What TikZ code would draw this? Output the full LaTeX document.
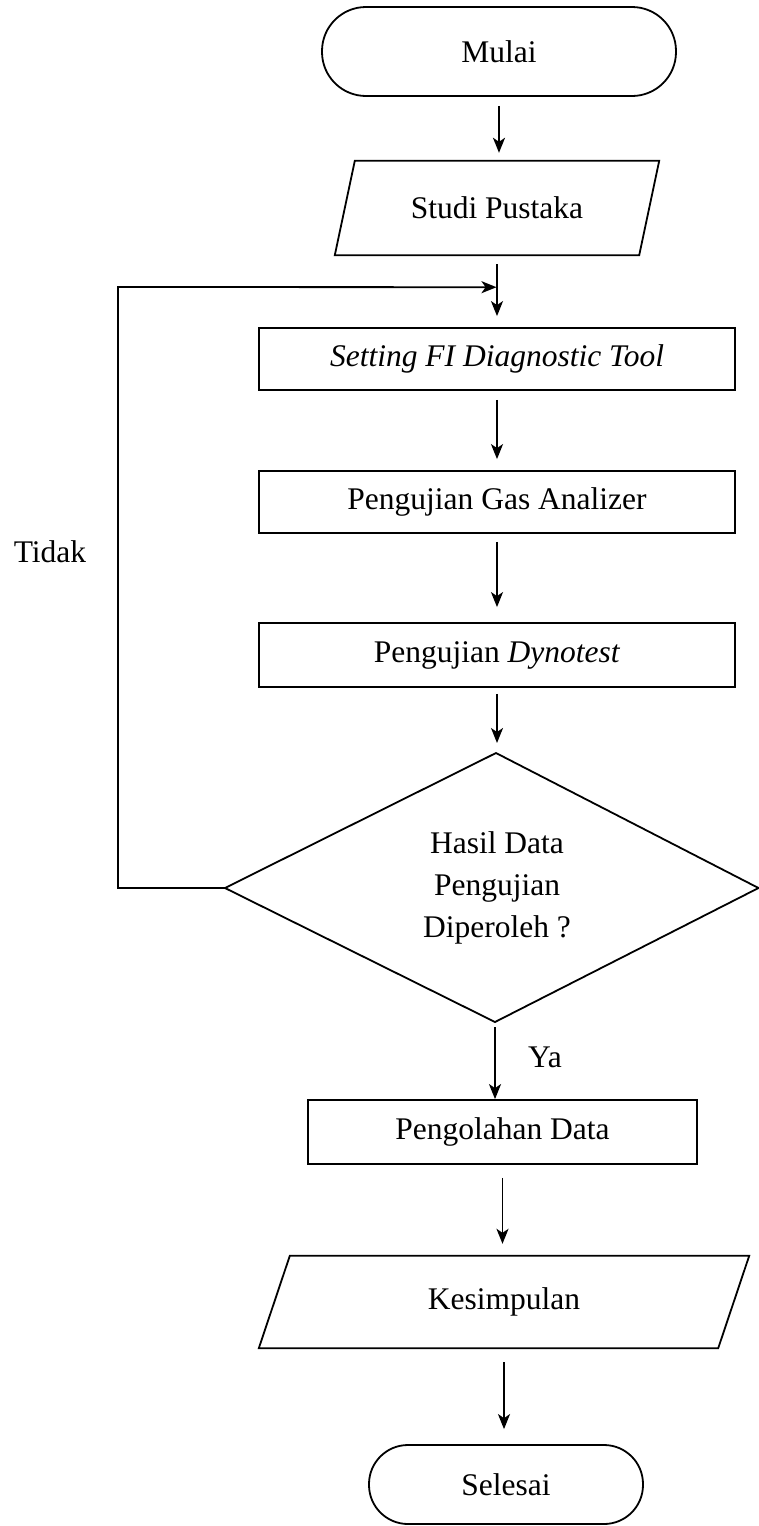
\documentclass[tikz,border=0pt]{standalone}
\usepackage{fontspec}
\setmainfont{Liberation Serif}
\usetikzlibrary{arrows.meta,calc}
\begin{document}
\begin{tikzpicture}[x=1pt,y=-1pt,
  ln/.style={line width=1.8pt},
  arr/.style={ln,-{Stealth[length=15pt,width=12pt,inset=4pt]}},
  txt/.style={inner sep=0pt,font=\fontsize{31.5}{42}\selectfont},
  box/.style={txt,draw,ln,minimum width=476pt,minimum height=62pt},
  term/.style={txt,draw,ln},
  pgram/.style={txt}
]
\useasboundingbox (0,0) rectangle (759,1526);

% nodes
\node[term,minimum width=354pt,minimum height=89pt,rounded corners=44pt] (mulai) at (499,51.5) {Mulai};
\node[pgram,minimum width=304pt,minimum height=94pt] (studi) at (497,208) {Studi Pustaka};
\draw[ln] ([xshift=10pt]studi.north west) -- ([xshift=10pt]studi.north east)
  -- ([xshift=-10pt]studi.south east) -- ([xshift=-10pt]studi.south west) -- cycle;
\node[box] (setting) at (497,359) {\itshape Setting FI Diagnostic Tool};
\node[box] (gas) at (497,502) {Pengujian Gas Analizer};
\node[box,minimum height=64pt] (dyno) at (497,655) {Pengujian \textit{Dynotest}};

\coordinate (dtop) at (496,753);
\coordinate (dleft) at (225,888);
\coordinate (dright) at (758.5,888);
\coordinate (dbot) at (495,1022);
\draw[ln] (dtop) -- (dright) -- (dbot) -- (dleft) -- cycle;
\node[txt,align=center] (dec) at (497,888) {Hasil Data\\Pengujian\\Diperoleh ?};

\node[box,minimum width=389pt,minimum height=64pt] (peng) at (502.5,1132) {Pengolahan Data};
\node[pgram,minimum width=459pt,minimum height=92pt] (kes) at (504,1302) {Kesimpulan};
\draw[ln] ([xshift=15.5pt]kes.north west) -- ([xshift=15.5pt]kes.north east)
  -- ([xshift=-15.5pt]kes.south east) -- ([xshift=-15.5pt]kes.south west) -- cycle;
\node[term,minimum width=274pt,minimum height=79pt,rounded corners=39pt] (selesai) at (506,1484.5) {Selesai};

\node[txt] (tidak) at (50,552) {Tidak};
\node[txt] (ya) at (545,1057) {Ya};

% connectors
\draw[arr,shorten <=9pt,shorten >=8pt] (mulai.south) -- (mulai.south |- studi.north);
\draw[arr,shorten <=9pt,shorten >=11pt] (studi.south) -- (studi.south |- setting.north);
\draw[arr,shorten <=9pt,shorten >=11pt] (setting.south) -- (setting.south |- gas.north);
\draw[arr,shorten <=8pt,shorten >=15pt] (gas.south) -- (gas.south |- dyno.north);
\draw[arr,shorten <=6pt,shorten >=10pt] (dyno.south) -- (dyno.south |- dtop);
\draw[arr,shorten <=5pt] (dbot) -- (dbot |- peng.north);
\draw[arr,shorten <=13pt,shorten >=12pt] (peng.south) -- (peng.south |- kes.north);
\draw[arr,shorten <=14pt,shorten >=15pt] (kes.south) -- (kes.south |- selesai.north);

\coordinate (join) at ($(studi.south)+(0,32)$);
\coordinate (corner) at (118,287);
\draw[arr,shorten >=0.5pt] (dleft) -| (corner) -- (join);
\end{tikzpicture}
\end{document}
